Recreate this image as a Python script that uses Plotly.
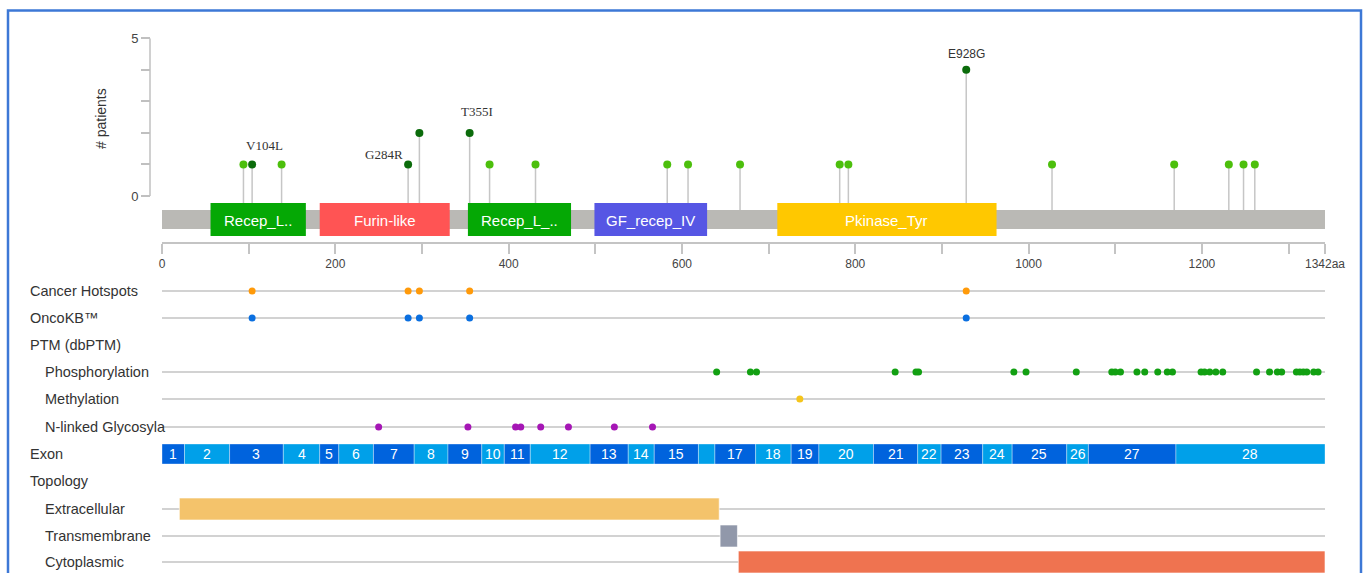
import plotly.graph_objects as go

W, H = 1366, 573
PROTEIN_LENGTH = 1342

# ---------------- data ----------------
mut_pos = [94, 104, 138, 284, 297, 355, 378, 431, 583, 607, 667, 782, 792, 928, 1027, 1168, 1231, 1248, 1261]
mut_count = [1, 1, 1, 1, 2, 2, 1, 1, 1, 1, 1, 1, 1, 4, 1, 1, 1, 1, 1]
mut_driver = [False, True, False, True, True, True, False, False, False, False, False, False, False, True,
              False, False, False, False, False]
label_pos = [104, 284, 355, 928]
label_text = ["V104L", "G284R", "T355I", "E928G"]

domain_names = ["Recep_L..", "Furin-like", "Recep_L_..", "GF_recep_IV", "Pkinase_Tyr"]
domain_start = [56, 182, 353, 499, 710]
domain_end = [166, 332, 472, 629, 963]

hotspot_pos = [104, 284, 297, 355, 928]
oncokb_pos = [104, 284, 297, 355, 928]
phospho_pos = [640, 679, 686, 846, 870, 873, 983, 997, 1055, 1096, 1100, 1106, 1125, 1134, 1149, 1160,
               1166, 1199, 1203, 1209, 1216, 1224, 1263, 1278, 1287, 1292, 1309, 1313, 1317, 1321, 1329, 1334]
methyl_pos = [736]
glyco_pos = [250, 353, 408, 414, 437, 469, 522, 566]

exon_labels = [str(i) for i in range(1, 29)]
exon_ends = [26, 78, 140, 182, 204, 244, 291, 330, 369, 395, 425, 494, 538, 568, 619, 638, 685, 726,
             758, 821, 872, 899, 947, 981, 1044, 1069, 1170, 1342]

topo_names = ["Extracellular", "Transmembrane", "Cytoplasmic"]
topo_start = [20, 644, 665]
topo_end = [643, 664, 1342]

x_tickvals = list(range(0, 1301, 100)) + [PROTEIN_LENGTH]
x_ticktext = [str(v) if v % 200 == 0 else "" for v in range(0, 1301, 100)] + ["1342aa"]

# ---------------- styles / layout constants ----------------
SANS = "Arial, Liberation Sans, sans-serif"
SERIF = "Times New Roman, Liberation Serif, serif"
TXT = "#333333"
X0_PX, X1_PX = 162, 1325
Y_TOP_PX, Y_ZERO_PX = 38.3, 196.0
Y_MIN = -1.35
per = (Y_ZERO_PX - Y_TOP_PX) / 5.0
y_bottom_px = Y_ZERO_PX - Y_MIN * per
STEM_BASE = -0.44

dark_green = "#0b6b0b"
light_green = "#4cbf0c"
domain_colors = ["#05a805", "#ff5454", "#05a805", "#5656e4", "#ffc800"]
label_shift = [(12, 19), (-24, 10), (7, 21), (0, 16)]
label_font = [SERIF, SERIF, SERIF, SANS]
label_size = [13, 13, 13, 12]

ROW = {"Cancer Hotspots": 291, "OncoKB™": 318, "PTM (dbPTM)": 345, "Phosphorylation": 372,
       "Methylation": 399, "N-linked Glycosyla": 427, "Exon": 454, "Topology": 481,
       "Extracellular": 509, "Transmembrane": 536, "Cytoplasmic": 562}
INDENT = {"Phosphorylation", "Methylation", "N-linked Glycosyla", "Extracellular", "Transmembrane", "Cytoplasmic"}
LINE_ROWS = ["Cancer Hotspots", "OncoKB™", "Phosphorylation", "Methylation", "N-linked Glycosyla",
             "Extracellular", "Transmembrane", "Cytoplasmic"]

fig = go.Figure()

# lollipop stems
sx, sy = [], []
for p, c in zip(mut_pos, mut_count):
    sx += [p, p, None]
    sy += [STEM_BASE, c, None]
fig.add_trace(go.Scatter(x=sx, y=sy, mode="lines", line=dict(color="#c6c6c6", width=1.5),
                         hoverinfo="skip", xaxis="x", yaxis="y"))
for flag, col in [(False, light_green), (True, dark_green)]:
    fig.add_trace(go.Scatter(
        x=[p for p, d in zip(mut_pos, mut_driver) if d == flag],
        y=[c for c, d in zip(mut_count, mut_driver) if d == flag],
        mode="markers", marker=dict(color=col, size=8, line=dict(width=0)),
        xaxis="x", yaxis="y", cliponaxis=False))

# track dots
tracks = [("Cancer Hotspots", hotspot_pos, "#ff9a0a"), ("OncoKB™", oncokb_pos, "#0a6fe0"),
          ("Phosphorylation", phospho_pos, "#12a012"), ("Methylation", methyl_pos, "#f5c51c"),
          ("N-linked Glycosyla", glyco_pos, "#a516b5")]
for name, pos, col in tracks:
    fig.add_trace(go.Scatter(x=pos, y=[ROW[name]] * len(pos), mode="markers",
                             marker=dict(color=col, size=7, line=dict(width=0)),
                             xaxis="x", yaxis="y2", cliponaxis=False))

shapes = []
annotations = []

# track lines
for name in LINE_ROWS:
    shapes.append(dict(type="line", xref="x", yref="y2", x0=0, x1=PROTEIN_LENGTH,
                       y0=ROW[name], y1=ROW[name], line=dict(color="#d2d2d2", width=2), layer="below"))

# backbone + domains
shapes.append(dict(type="rect", xref="x", yref="y2", x0=0, x1=PROTEIN_LENGTH, y0=210, y1=229,
                   fillcolor="#bab9b5", line=dict(width=0), layer="above"))
for n, s, e, col in zip(domain_names, domain_start, domain_end, domain_colors):
    shapes.append(dict(type="rect", xref="x", yref="y2", x0=s, x1=e, y0=203, y1=236,
                       fillcolor=col, line=dict(width=0), layer="above"))
    annotations.append(dict(x=(s + e) / 2, y=220, xref="x", yref="y2", text=n, showarrow=False,
                            font=dict(family=SANS, size=15, color="white")))

# y axis line (0..5)
shapes.append(dict(type="line", xref="paper", yref="y", x0=150 / W, x1=150 / W, y0=0, y1=5,
                   line=dict(color="#c0c0c0", width=1.5)))

# exons
prev = 0
for i, (lab, e) in enumerate(zip(exon_labels, exon_ends)):
    col = "#0063dd" if i % 2 == 0 else "#00a0e9"
    shapes.append(dict(type="rect", xref="x", yref="y2", x0=prev, x1=e, y0=444, y1=464,
                       fillcolor=col, line=dict(color="rgba(255,255,255,0.35)", width=1), layer="above"))
    if e - prev >= 20:
        annotations.append(dict(x=(prev + e) / 2, y=454, xref="x", yref="y2", text=lab, showarrow=False,
                                font=dict(family=SANS, size=14, color="white")))
    prev = e

# topology
topo_colors = ["#f4c36b", "#9198aa", "#ef7350"]
for n, s, e, col in zip(topo_names, topo_start, topo_end, topo_colors):
    shapes.append(dict(type="rect", xref="x", yref="y2", x0=s, x1=e, y0=ROW[n] - 11, y1=ROW[n] + 11,
                       fillcolor=col, line=dict(color="rgba(255,255,255,0.6)", width=1), layer="above"))

# mutation labels
for p, t, (dx, dy), f, sz in zip(label_pos, label_text, label_shift, label_font, label_size):
    c = mut_count[mut_pos.index(p)]
    annotations.append(dict(x=p, y=c, xref="x", yref="y", text=t, showarrow=False,
                            xshift=dx, yshift=dy, font=dict(family=f, size=sz, color=TXT)))

# left labels
for name, yy in ROW.items():
    annotations.append(dict(x=(43 if name in INDENT else 28) / W, y=yy, xref="paper", yref="y2",
                            text=name, showarrow=False, xanchor="left", yanchor="middle",
                            font=dict(family=SANS, size=14.5, color=TXT)))

annotations.append(dict(x=101 / W, y=119, xref="paper", yref="y2", text="# patients", textangle=-90,
                        xanchor="center", yanchor="middle",
                        showarrow=False, font=dict(family=SANS, size=14, color=TXT)))

# blue frame
shapes.append(dict(type="rect", xref="paper", yref="paper", x0=8 / W, x1=1361 / W,
                   y0=-0.1, y1=1 - 10.5 / H, line=dict(color="#3d78d6", width=2.5), fillcolor="rgba(0,0,0,0)"))

fig.update_layout(
    width=W, height=H, autosize=False,
    margin=dict(l=0, r=0, t=0, b=0, pad=0, autoexpand=False),
    paper_bgcolor="white", plot_bgcolor="rgba(0,0,0,0)", showlegend=False,
    xaxis=dict(domain=[X0_PX / W, X1_PX / W], range=[0, PROTEIN_LENGTH], anchor="free",
               position=1 - 243 / H, showline=True, linecolor="#c4c4c4", linewidth=2,
               ticks="outside", ticklen=10, tickwidth=1.5, tickcolor="#c4c4c4",
               tickvals=x_tickvals, ticktext=x_ticktext, showgrid=False, zeroline=False,
               automargin=False,
               tickfont=dict(family=SANS, size=12, color="#444444"), fixedrange=True),
    yaxis=dict(domain=[1 - y_bottom_px / H, 1 - Y_TOP_PX / H], range=[Y_MIN, 5], anchor="free",
               position=150 / W, showline=False, ticks="outside", ticklen=9, tickwidth=1.5,
               tickcolor="#c0c0c0", tickvals=[0, 1, 2, 3, 4, 5], ticktext=["0", "", "", "", "", "5"],
               showgrid=False, zeroline=False, automargin=False,
               tickfont=dict(family=SANS, size=13, color="#444444"), fixedrange=True),
    yaxis2=dict(domain=[0, 1], range=[H, 0], anchor="x", visible=False, fixedrange=True, automargin=False),
    shapes=shapes, annotations=annotations,
)

fig.write_html("out.html", config={"displayModeBar": False},
               post_script="document.body.style.margin='0';document.body.style.overflow='hidden';")
